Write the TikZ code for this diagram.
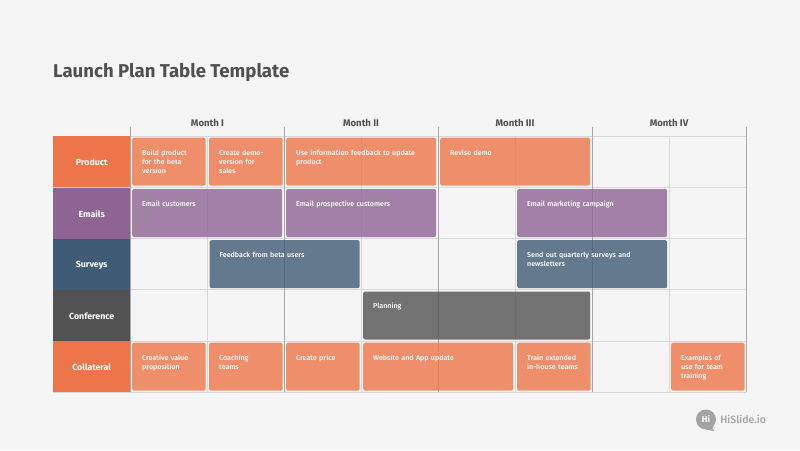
\documentclass[tikz,border=0pt]{standalone}
\usepackage{fontspec}
\setmainfont{Fira Sans}
\newfontfamily\medfont{Fira Sans Medium}
\definecolor{pagebg}{HTML}{F6F5F6}
\definecolor{inkgray}{HTML}{505050}
\definecolor{gridgray}{HTML}{D8D8D8}
\definecolor{monthgray}{HTML}{A9A9A9}
\definecolor{orange1}{HTML}{EE7549}
\definecolor{violet1}{HTML}{8E6592}
\definecolor{slateblue}{HTML}{3F5B75}
\definecolor{darkgray1}{HTML}{525252}
\definecolor{logogray}{HTML}{A3A3A3}
\usetikzlibrary{positioning}
\tikzset{
  rowhead/.style={fill=#1, text=white, anchor=north west, inner sep=0pt, minimum width=77pt, minimum height=51.2pt,
    text height=8pt, font=\fontsize{8.8}{10}\selectfont\bfseries},
  monthhead/.style={text=inkgray, inner sep=0pt, font=\fontsize{9.6}{11}\selectfont\bfseries},
  planbar/.style={fill=#1, fill opacity=0.8, text opacity=1, text=white, rounded corners=2pt, anchor=north west,
    inner xsep=10pt, inner ysep=0pt, text height=17.3pt, text depth=30.7pt, align=left,
    font=\fontsize{7.1}{9.3}\selectfont\medfont},
}
\begin{document}
\begin{tikzpicture}[x=1pt, y=-1pt]
  \fill[pagebg] (0, 0) rectangle (800, 450);

  % Title
  \node[anchor=west, inner sep=0pt, text=inkgray, font=\fontsize{18.6}{20}\selectfont\bfseries] (title) at (53, 72.5) {Launch Plan Table Template};

  % Grid
  \foreach \y in {136, 187, 238.5, 289.5, 341, 392}
    \draw[gridgray, line width=1pt] (53, \y) -- (746, \y);
  \foreach \x in {207.5, 361, 515, 669}
    \draw[gridgray, line width=1pt] (\x, 136) -- (\x, 392);
  \foreach \x in {130, 284.5, 438, 592, 746}
    \draw[monthgray, line width=1pt] (\x, 127) -- (\x, 392);

  % Month labels
  \node[monthhead] (monthA) at (207.5, 123) {Month I};
  \node[monthhead] (monthB) at (361, 123) {Month II};
  \node[monthhead] (monthC) at (515, 123) {Month III};
  \node[monthhead] (monthD) at (669, 123) {Month IV};

  % Row labels
  \node[rowhead=orange1] (product) at (53, 136) {Product};
  \node[rowhead=violet1] (emails) at (53, 187.3) {Emails};
  \node[rowhead=slateblue] (surveys) at (53, 238.5) {Surveys};
  \node[rowhead=darkgray1] (conference) at (53, 289.8) {Conference};
  \node[rowhead=orange1] (collateral) at (53, 341) {Collateral};

  % Product
  \node[planbar=orange1, text width=53.5pt] (prodA) at (132, 137.5) {Build product\\for the beta\\version};
  \node[planbar=orange1, text width=53.5pt] (prodB) at (209, 137.5) {Create demo-\\version for\\sales};
  \node[planbar=orange1, text width=130pt] (prodC) at (286, 137.5) {Use information feedback to update\\product};
  \node[planbar=orange1, text width=130pt] (prodD) at (440, 137.5) {Revise demo};

  % Emails
  \node[planbar=violet1, text width=130pt] (mailA) at (132, 188.8) {Email customers};
  \node[planbar=violet1, text width=130pt] (mailB) at (286, 188.8) {Email prospective customers};
  \node[planbar=violet1, text width=130pt] (mailC) at (517, 188.8) {Email marketing campaign};

  % Surveys
  \node[planbar=slateblue, text width=130pt] (survA) at (209.5, 240) {Feedback from beta users};
  \node[planbar=slateblue, text width=130pt] (survB) at (517, 240) {Send out quarterly surveys and\\newsletters};

  % Conference
  \node[planbar=darkgray1, text width=207pt] (planning) at (363, 291.3) {Planning};

  % Collateral
  \node[planbar=orange1, text width=53.5pt] (collA) at (132, 342.5) {Creative value\\proposition};
  \node[planbar=orange1, text width=53.5pt] (collB) at (209, 342.5) {Coaching\\teams};
  \node[planbar=orange1, text width=53.5pt] (collC) at (286, 342.5) {Create price};
  \node[planbar=orange1, text width=130pt] (collD) at (363, 342.5) {Website and App update};
  \node[planbar=orange1, text width=53.5pt] (collE) at (517, 342.5) {Train extended\\in-house teams};
  \node[planbar=orange1, text width=53.5pt] (collF) at (671, 342.5) {Examples of\\use for team\\training};

  % Logo
  \fill[logogray] (706, 429.5) -- (714, 431) -- (712, 425) -- cycle;
  \node[circle, fill=logogray, text=white, minimum size=20pt, inner sep=0pt, font=\fontsize{8.5}{10}\selectfont\bfseries] (logo) at (706, 419.5) {Hi};
  \node[right=4pt of logo, inner sep=0pt, text=logogray, font=\fontsize{10.5}{12}\selectfont\medfont] (brand) {HiSlide.io};
\end{tikzpicture}
\end{document}
